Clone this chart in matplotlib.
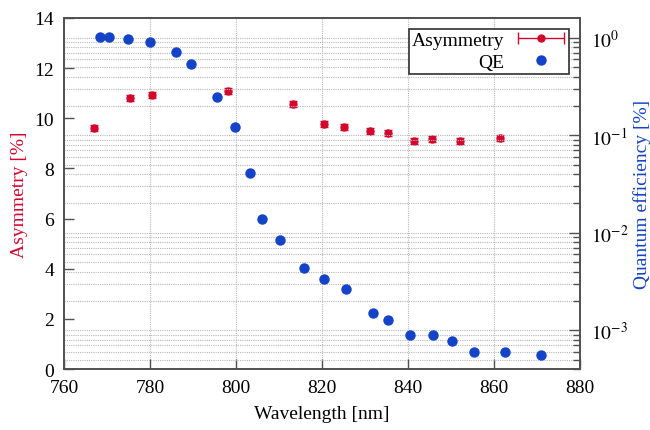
import matplotlib.pyplot as plt
import numpy as np
from matplotlib.ticker import LogLocator, FixedLocator
from matplotlib.legend_handler import HandlerErrorbar

plt.rcParams['font.family'] = ['Liberation Serif', 'DejaVu Serif']
plt.rcParams['mathtext.fontset'] = 'stix'

# Asymmetry data
asy_wl = [767.0, 775.4, 780.5, 798.1, 813.3, 820.5, 825.1, 831.3, 835.3, 841.4, 845.6, 852.2, 861.4]
asy = [9.62, 10.81, 10.92, 11.10, 10.56, 9.77, 9.67, 9.48, 9.43, 9.11, 9.16, 9.09, 9.20]
asy_err = [0.12, 0.12, 0.12, 0.12, 0.12, 0.12, 0.12, 0.12, 0.12, 0.12, 0.12, 0.12, 0.12]

# Quantum efficiency data
qe_wl = [768.3, 770.4, 775.0, 779.9, 786.1, 789.6, 795.6, 799.8, 803.2, 806.1, 810.2,
         815.9, 820.4, 825.7, 832.0, 835.4, 840.5, 845.8, 850.3, 855.5, 862.7, 871.0]
qe = [1.02, 1.02, 0.98, 0.90, 0.72, 0.545, 0.248, 0.121, 0.0412, 0.0138, 0.00848,
      0.00438, 0.00332, 0.00265, 0.0015, 0.00128, 0.000885, 0.000885, 0.00078,
      0.000602, 0.0006, 0.000557]

red = '#d4062c'
blue = '#1443c8'
spine_col = '#505050'

fig = plt.figure(figsize=(6.5, 4.31), dpi=100)
ax = fig.add_axes([0.0985, 0.1415, 0.7935, 0.8145])
ax2 = ax.twinx()

ax.errorbar(asy_wl, asy, yerr=asy_err, fmt='o', ms=5, color=red, ecolor=red,
            elinewidth=1.0, capsize=3, capthick=1.0)
h2, = ax2.plot(qe_wl, qe, 'o', ms=6.5, color=blue, label='QE')
# legend proxy: horizontal error bar like the original key (removed from the axes)
h1 = ax.errorbar(asy_wl[:1], asy[:1], xerr=[0.5], fmt='o', ms=5, color=red, ecolor=red,
                 elinewidth=1.0, capsize=4, capthick=1.0)
for art in h1.get_children():
    art.remove()

ax.set_xlim(760, 880)
ax.set_ylim(0, 14)
ax.set_xticks([760, 780, 800, 820, 840, 860, 880])
ax.set_yticks([0, 2, 4, 6, 8, 10, 12, 14])
ax.grid(axis='x', color='#b8b8b8', linestyle=(0, (1, 1)), linewidth=0.8)

ax2.set_yscale('log')
ax2.set_ylim(4e-4, 1.6)
ax2.yaxis.set_major_locator(FixedLocator([1e-3, 1e-2, 1e-1, 1]))
ax2.yaxis.set_minor_locator(LogLocator(base=10, subs=np.arange(2, 10), numticks=20))
ax2.set_yticklabels([r'$10^{-3}$', r'$10^{-2}$', r'$10^{-1}$', r'$10^{0}$'])
ax2.yaxis.set_minor_formatter(plt.NullFormatter())
ax2.grid(axis='y', which='both', color='#b8b8b8', linestyle=(0, (1, 1)), linewidth=0.8)

for a in (ax, ax2):
    for s in a.spines.values():
        s.set_color(spine_col)
        s.set_linewidth(1.2)
ax.tick_params(axis='both', direction='in', length=7, width=1.0, color=spine_col,
               labelsize=14, pad=7)
ax2.tick_params(axis='y', which='major', direction='in', length=8, width=1.0,
                color=spine_col, labelsize=14, pad=8)
ax2.tick_params(axis='y', which='minor', direction='in', length=5, width=1.0,
                color=spine_col)

ax.set_xlabel('Wavelength [nm]', fontsize=14, labelpad=7)
ax.set_ylabel('Asymmetry [%]', fontsize=14, color=red, labelpad=5)
ax2.set_ylabel('Quantum efficiency [%]', fontsize=14, color=blue, labelpad=3)

leg = ax2.legend([h1, h2], ['Asymmetry', 'QE'], loc='upper right', fontsize=14,
                 markerfirst=False, fancybox=False, framealpha=1, edgecolor='#303030',
                 borderaxespad=0.55, handlelength=2.6, labelspacing=0.2,
                 borderpad=0.15, handletextpad=0.6,
                 handler_map={type(h1): HandlerErrorbar(xerr_size=1.2)})
leg.get_frame().set_linewidth(1.2)

fig.savefig('out.png', dpi=100)
